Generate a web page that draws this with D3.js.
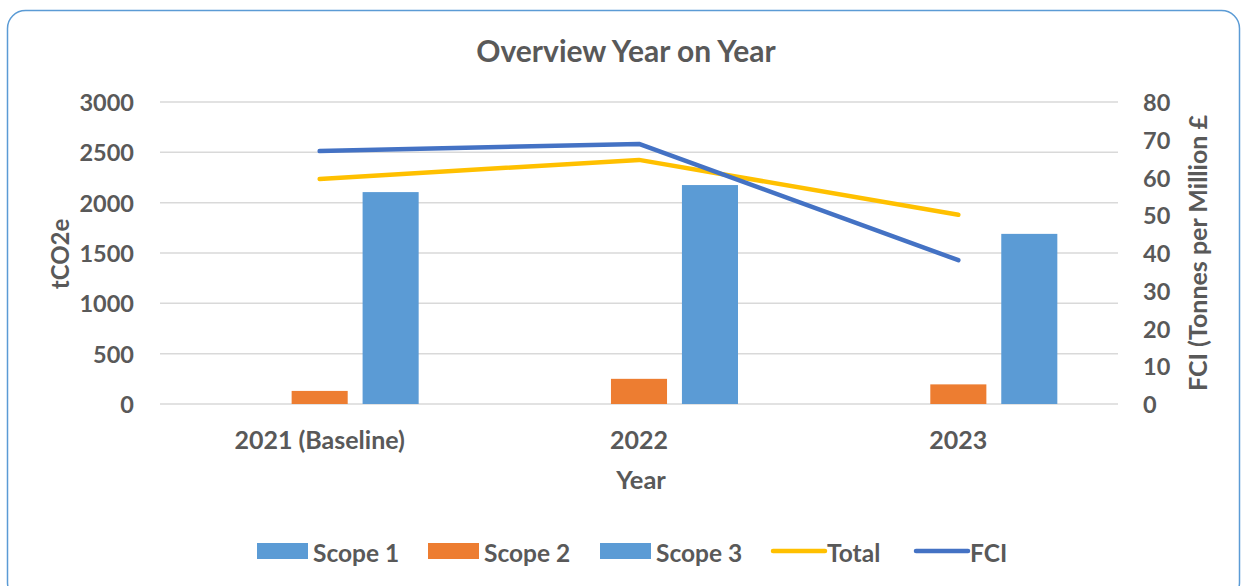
<!DOCTYPE html>
<html>
<head>
<meta charset="utf-8">
<script src="https://cdn.jsdelivr.net/npm/d3@7"></script>
<style>
  body { margin: 0; background: #fff; }
  svg { display: block; font-family: Lato, "Open Sans", sans-serif; font-weight: bold; }
</style>
</head>
<body>
<svg width="1242" height="586"></svg>
<script>
const years = ["2021 (Baseline)", "2022", "2023"];
const scopes = ["Scope 1", "Scope 2", "Scope 3"];
const scope1 = [0, 0, 0];
const scope2 = [130, 250, 195];
const scope3 = [2105, 2175, 1690];
const total = [2235, 2425, 1880];
const fci = [67.0, 68.9, 38.1];
const leftTicks = [0, 500, 1000, 1500, 2000, 2500, 3000];
const rightTicks = [0, 10, 20, 30, 40, 50, 60, 70, 80];

const svg = d3.select("svg");
const textColor = "#595959";
const colors = { "Scope 1": "#5B9BD5", "Scope 2": "#ED7D31", "Scope 3": "#5B9BD5" };
const totalColor = "#FFC000";
const fciColor = "#4472C4";

// outer frame
svg.append("rect")
  .attr("x", 7.5).attr("y", 10.5)
  .attr("width", 1232).attr("height", 590)
  .attr("rx", 18)
  .attr("fill", "#fff")
  .attr("stroke", "#5B9BD5")
  .attr("stroke-width", 1.5);

const x = d3.scaleBand().domain(years).range([160, 1118]);
const inner = d3.scaleBand().domain(scopes)
  .range([x.bandwidth() * 0.19, x.bandwidth() * 0.81])
  .paddingInner(0.21);
const yL = d3.scaleLinear().domain([0, 3000]).range([404, 102]);
const yR = d3.scaleLinear().domain([0, 80]).range([404, 102]);

// title
svg.append("text")
  .attr("x", 626).attr("y", 50)
  .attr("text-anchor", "middle").attr("dominant-baseline", "central")
  .attr("fill", textColor).attr("font-size", 30)
  .text("Overview Year on Year");

// gridlines
svg.append("g")
  .selectAll("line")
  .data(leftTicks)
  .join("line")
  .attr("x1", 160).attr("x2", 1118)
  .attr("y1", d => yL(d)).attr("y2", d => yL(d))
  .attr("stroke", "#D9D9D9").attr("stroke-width", 1.5);

// left axis labels
svg.append("g")
  .selectAll("text")
  .data(leftTicks)
  .join("text")
  .attr("x", 134).attr("y", d => yL(d))
  .attr("text-anchor", "end").attr("dominant-baseline", "central")
  .attr("fill", textColor).attr("font-size", 23.5)
  .text(d => d);

// right axis labels
svg.append("g")
  .selectAll("text")
  .data(rightTicks)
  .join("text")
  .attr("x", 1143).attr("y", d => yR(d))
  .attr("text-anchor", "start").attr("dominant-baseline", "central")
  .attr("fill", textColor).attr("font-size", 23.5)
  .text(d => d);

// axis titles
svg.append("text")
  .attr("transform", "translate(59,254) rotate(-90)")
  .attr("text-anchor", "middle").attr("dominant-baseline", "central")
  .attr("fill", textColor).attr("font-size", 24)
  .text("tCO2e");

svg.append("text")
  .attr("transform", "translate(1197,253) rotate(-90)")
  .attr("text-anchor", "middle").attr("dominant-baseline", "central")
  .attr("fill", textColor).attr("font-size", 25)
  .text("FCI (Tonnes per Million £");

// x labels
svg.append("g")
  .selectAll("text")
  .data(years)
  .join("text")
  .attr("x", d => x(d) + x.bandwidth() / 2).attr("y", 439)
  .attr("text-anchor", "middle").attr("dominant-baseline", "central")
  .attr("fill", textColor).attr("font-size", 25)
  .text(d => d);

svg.append("text")
  .attr("x", 641).attr("y", 479)
  .attr("text-anchor", "middle").attr("dominant-baseline", "central")
  .attr("fill", textColor).attr("font-size", 25.5)
  .text("Year");

// bars
const series = { "Scope 1": scope1, "Scope 2": scope2, "Scope 3": scope3 };
const barData = [];
years.forEach((yr, i) => {
  scopes.forEach(s => barData.push({ year: yr, scope: s, value: series[s][i] }));
});

svg.append("g")
  .selectAll("rect")
  .data(barData.filter(d => d.value > 0))
  .join("rect")
  .attr("x", d => x(d.year) + inner(d.scope))
  .attr("width", inner.bandwidth())
  .attr("y", d => yL(d.value))
  .attr("height", d => yL(0) - yL(d.value))
  .attr("fill", d => colors[d.scope]);

// lines
const cx = (d, i) => x(years[i]) + x.bandwidth() / 2;

svg.append("path")
  .datum(total)
  .attr("d", d3.line().x(cx).y(d => yL(d)))
  .attr("fill", "none")
  .attr("stroke", totalColor)
  .attr("stroke-width", 4.5)
  .attr("stroke-linecap", "round")
  .attr("stroke-linejoin", "round");

svg.append("path")
  .datum(fci)
  .attr("d", d3.line().x(cx).y(d => yR(d)))
  .attr("fill", "none")
  .attr("stroke", fciColor)
  .attr("stroke-width", 4.5)
  .attr("stroke-linecap", "round")
  .attr("stroke-linejoin", "round");

// legend
const legendItems = [
  { label: "Scope 1", type: "bar", color: colors["Scope 1"], x: 257 },
  { label: "Scope 2", type: "bar", color: colors["Scope 2"], x: 428 },
  { label: "Scope 3", type: "bar", color: colors["Scope 3"], x: 600 },
  { label: "Total", type: "line", color: totalColor, x: 771 },
  { label: "FCI", type: "line", color: fciColor, x: 914 }
];

const legend = svg.append("g");
const ly = 551;
legendItems.forEach(item => {
  if (item.type === "bar") {
    legend.append("rect")
      .attr("x", item.x).attr("y", ly - 8)
      .attr("width", 51).attr("height", 16)
      .attr("fill", item.color);
  } else {
    legend.append("line")
      .attr("x1", item.x + 2).attr("x2", item.x + 54)
      .attr("y1", ly).attr("y2", ly)
      .attr("stroke", item.color).attr("stroke-width", 4.5)
      .attr("stroke-linecap", "round");
  }
  legend.append("text")
    .attr("x", item.x + 56).attr("y", ly + 1)
    .attr("dominant-baseline", "central")
    .attr("fill", textColor).attr("font-size", 24.5)
    .text(item.label);
});
</script>
</body>
</html>
